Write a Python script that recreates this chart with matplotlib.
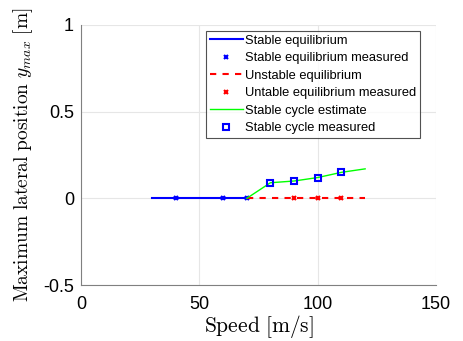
import numpy as np
import matplotlib
matplotlib.use('Agg')
from matplotlib import pyplot as plt

# data
eq_stable_x = [30, 70]
eq_stable_y = [0, 0]
eq_stable_meas_x = [40, 60, 70]
eq_stable_meas_y = [0, 0, 0]
eq_unstable_x = [70, 120]
eq_unstable_y = [0, 0]
eq_unstable_meas_x = [90, 100, 110]
eq_unstable_meas_y = [0, 0, 0]
cycle_est_x = [70, 80, 90, 100, 110, 120]
cycle_est_y = [0, 0.09, 0.10, 0.12, 0.15, 0.17]
cycle_meas_x = [80, 90, 100, 110]
cycle_meas_y = [0.09, 0.10, 0.12, 0.15]

x_ticks = [0, 50, 100, 150]
y_ticks = [-0.5, 0, 0.5, 1]
y_tick_labels = ['-0.5', '0', '0.5', '1']

plt.rcParams['font.family'] = ['Liberation Sans', 'DejaVu Sans']
plt.rcParams['mathtext.fontset'] = 'cm'

fig = plt.figure(figsize=(4.63, 3.41), dpi=100)
ax = fig.add_axes([0.175, 0.164, 0.767, 0.763])

ax.plot(eq_stable_x, eq_stable_y, '-', color='#0000ff', lw=1.5, label='Stable equilibrium')
ax.plot(eq_stable_meas_x, eq_stable_meas_y, 'x', color='#0000ff', ms=3.5, mew=1.5,
        label='Stable equilibrium measured')
ax.plot(eq_unstable_x, eq_unstable_y, '--', color='#ff0000', lw=1.5, dashes=(3, 3),
        label='Unstable equilibrium')
ax.plot(eq_unstable_meas_x, eq_unstable_meas_y, 'x', color='#ff0000', ms=3.5, mew=1.5,
        label='Untable equilibrium measured')
ax.plot(cycle_est_x, cycle_est_y, '-', color='#00ff00', lw=1, label='Stable cycle estimate')
ax.plot(cycle_meas_x, cycle_meas_y, 's', color='#0000ff', mfc='none', ms=4.5, mew=1.5,
        label='Stable cycle measured')

ax.set_xlim(0, 150)
ax.set_ylim(-0.5, 1)
ax.set_xticks(x_ticks)
ax.set_yticks(y_ticks)
ax.set_yticklabels(y_tick_labels)
ax.tick_params(labelsize=13, length=0)
ax.tick_params(axis='x', pad=8)
ax.tick_params(axis='y', pad=5)
ax.grid(True, color='#e6e6e6', lw=0.8)
ax.set_axisbelow(True)
for side in ['top', 'right']:
    ax.spines[side].set_visible(False)
for side in ['left', 'bottom']:
    ax.spines[side].set_color('#808080')
    ax.spines[side].set_linewidth(0.8)

ax.set_xlabel(r'$\mathrm{Speed\ [m/s]}$', fontsize=15.5, labelpad=0)
ax.set_ylabel(r'$\mathrm{Maximum\ lateral\ position}\ y_{max}\ \mathrm{[m]}$', fontsize=14, labelpad=6)

leg = ax.legend(loc='upper right', fontsize=9.3, frameon=True, fancybox=False,
                edgecolor='#262626', borderpad=0.3, labelspacing=0.42, handlelength=2.5,
                handletextpad=0.2, borderaxespad=0, bbox_to_anchor=(0.955, 0.977))
leg.get_frame().set_linewidth(0.8)

fig.savefig('out.png', dpi=100)
